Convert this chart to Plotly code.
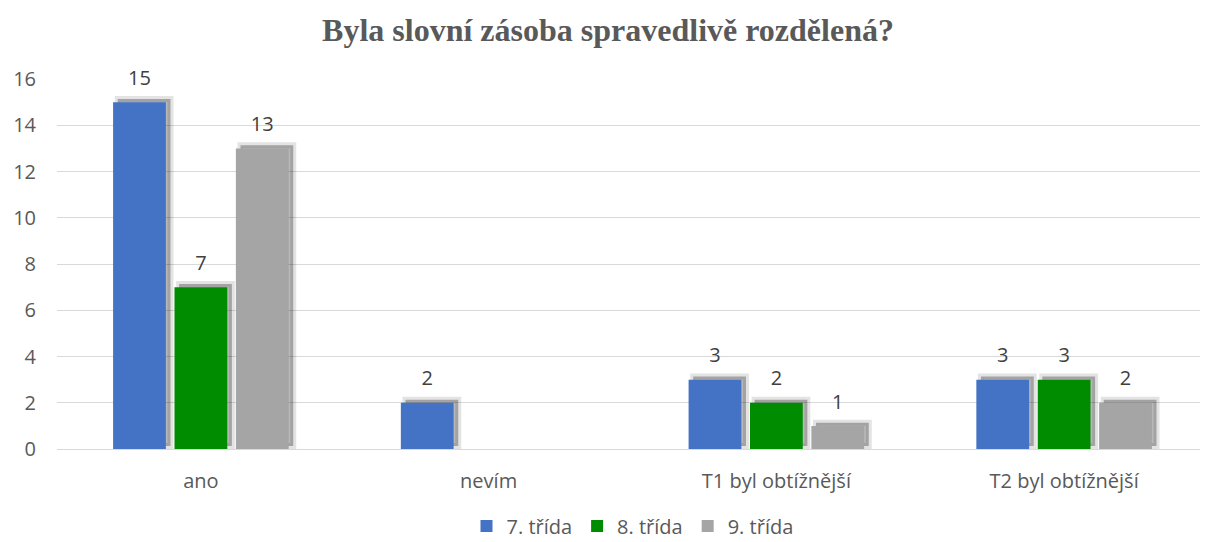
import plotly.graph_objects as go

categories = ["ano", "nevím", "T1 byl obtížnější", "T2 byl obtížnější"]
series_names = ["7. třída", "8. třída", "9. třída"]
values_7 = [15, 2, 3, 3]
values_8 = [7, None, 2, 3]
values_9 = [13, None, 1, 2]
colors = ["#4472C4", "#008C00", "#A5A5A5"]

text_color = "#595959"
font_family = "Open Sans, Arial, sans-serif"
all_values = [values_7, values_8, values_9]

fig = go.Figure()

# soft shadows behind the bars (shifted x axis, raised a little)
shadow_lift = 0.13
for name, vals in zip(series_names, all_values):
    fig.add_trace(go.Bar(
        x=categories, y=vals, base=shadow_lift, name=name, showlegend=False,
        hoverinfo="skip", xaxis="x", yaxis="y",
        marker=dict(color="rgba(0,0,0,0.28)", line=dict(width=6, color="rgba(0,0,0,0.11)")),
    ))

for name, vals, col in zip(series_names, all_values, colors):
    fig.add_trace(go.Bar(
        x=categories, y=vals, name=name, xaxis="x2", yaxis="y",
        marker=dict(color=col, line=dict(width=0)),
        hoverinfo="x+y+name",
    ))

# value labels, placed a bit above the bar tops
label_lift = 0.36
for name, vals in zip(series_names, all_values):
    fig.add_trace(go.Bar(
        x=categories, y=vals, base=label_lift, name=name, showlegend=False,
        xaxis="x3", yaxis="y", hoverinfo="skip",
        marker=dict(color="rgba(0,0,0,0)", line=dict(width=0)),
        text=[str(v) if v is not None else "" for v in vals],
        textposition="outside", cliponaxis=False,
        textfont=dict(size=20, color="#404040", family=font_family),
    ))

shift = 0.016
fig.update_layout(
    width=1200, height=534,
    paper_bgcolor="white", plot_bgcolor="white",
    margin=dict(l=49, r=0, t=71, b=93),
    barmode="group", bargap=0.36, bargroupgap=0.14,
    title=dict(text="<b>Byla slovní zásoba spravedlivě rozdělená?</b>",
               x=0.5, xanchor="center", yref="container", y=0.959, yanchor="middle",
               font=dict(family="Liberation Serif, Times New Roman, serif", size=32, color=text_color)),
    font=dict(family=font_family, size=20, color=text_color),
    legend=dict(orientation="h", x=0.5, xanchor="center", yref="container", y=0.03,
                yanchor="middle", font=dict(size=20, color=text_color), traceorder="normal"),
    xaxis=dict(range=[-0.5 - shift, 3.5 - shift], showticklabels=False, ticks="",
               showgrid=False, showline=False, categoryorder="array", categoryarray=categories),
    xaxis2=dict(range=[-0.5, 3.5], overlaying="x", side="bottom", anchor="y",
                showline=True, linecolor="#D9D9D9", linewidth=1, ticks="",
                categoryorder="array", categoryarray=categories,
                tickfont=dict(size=20, color=text_color), ticklabelstandoff=14),
    xaxis3=dict(range=[-0.5, 3.5], overlaying="x", anchor="y", visible=False,
                categoryorder="array", categoryarray=categories),
    yaxis=dict(range=[0, 16], dtick=2, showgrid=True, gridcolor="#D9D9D9", gridwidth=1,
               zeroline=False, ticks="", tickfont=dict(size=20, color=text_color),
               ticklabelstandoff=20),
)

fig.write_html("out.html")
